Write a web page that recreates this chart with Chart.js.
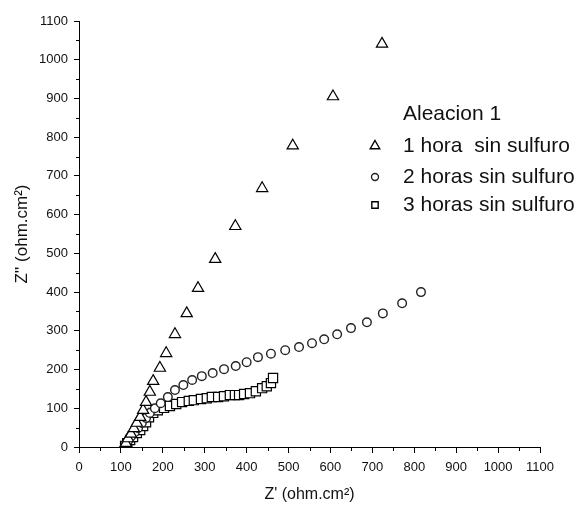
<!DOCTYPE html>
<html>
<head>
<meta charset="utf-8">
<script src="https://cdn.jsdelivr.net/npm/chart.js@4.4.1/dist/chart.umd.min.js"></script>
<style>
    html, body { margin: 0; padding: 0; background: #fff; }
</style>
</head>
<body>
<canvas id="nyquist" width="576" height="510"></canvas>
<script>
// Z' / Z'' values (ohm.cm2)
const hora1X = [108, 112, 117, 124, 131, 138, 146, 153, 160, 169, 177, 193, 208, 229, 257, 284, 325, 373, 437, 510, 606, 723];
const hora1Y = [3, 10, 22, 34, 48, 62, 77, 95, 116, 142, 170, 204, 242, 291, 345, 410, 485, 570, 668, 778, 905, 1041];

const horas2X = [112, 117, 124, 133, 141, 150, 160, 169, 181, 195, 212, 229, 249, 270, 293, 319, 346, 374, 400, 427, 458, 492, 525, 556, 585, 616, 649, 687, 725, 771, 816];
const horas2Y = [5, 16, 27, 38, 49, 62, 75, 88, 100, 113, 129, 147, 160, 173, 183, 191, 201, 209, 219, 232, 241, 250, 258, 268, 278, 291, 307, 322, 345, 371, 400];

const horas3X = [110, 115, 122, 129, 138, 146, 153, 160, 167, 177, 188, 203, 217, 232, 246, 262, 274, 291, 305, 317, 332, 346, 360, 372, 382, 394, 408, 422, 437, 448, 458, 463];
const horas3Y = [3, 10, 18, 26, 36, 44, 54, 64, 77, 88, 95, 101, 106, 111, 116, 119, 121, 124, 126, 129, 129, 131, 134, 134, 134, 137, 139, 144, 152, 157, 165, 178];

const seriesLabels = ["1 hora  sin sulfuro", "2 horas sin sulfuro", "3 horas sin sulfuro"];
const legendTitle = "Aleacion 1";
const axisMin = 0;
const axisMax = 1100;
const axisStep = 100;

const FONT = "'Liberation Sans', Arial, sans-serif";

function toPoints(xs, ys) {
    return xs.map((x, i) => ({ x: x, y: ys[i] }));
}

// minor ticks halfway between the labelled ones
const minorTicks = {
    id: "minorTicks",
    afterDraw(chart) {
        const ctx = chart.ctx;
        const area = chart.chartArea;
        ctx.save();
        ctx.strokeStyle = "#000";
        ctx.lineWidth = 1;
        ctx.beginPath();
        for (let v = axisMin + axisStep / 2; v < axisMax; v += axisStep) {
            const px = Math.round(chart.scales.x.getPixelForValue(v)) + 0.5;
            ctx.moveTo(px, area.bottom);
            ctx.lineTo(px, area.bottom + 4);
            const py = Math.round(chart.scales.y.getPixelForValue(v)) + 0.5;
            ctx.moveTo(area.left, py);
            ctx.lineTo(area.left - 3, py);
        }
        ctx.stroke();
        ctx.restore();
    },
};

// legend block drawn inside the plot like the original
const boxLegend = {
    id: "boxLegend",
    afterDraw(chart) {
        const ctx = chart.ctx;
        ctx.save();
        ctx.fillStyle = "#111";
        ctx.font = "21px " + FONT;
        ctx.textBaseline = "middle";
        ctx.textAlign = "left";
        ctx.fillText(legendTitle, 403, 114);
        const rows = [146, 177, 205];
        const sizes = [5.5, 3.5, 4.5];
        chart.data.datasets.forEach((ds, i) => {
            ctx.fillStyle = "#fff";
            ctx.strokeStyle = ds.borderColor;
            ctx.lineWidth = 1.4;
            Chart.helpers.drawPoint(ctx, { pointStyle: ds.pointStyle, rotation: 0, radius: sizes[i], borderWidth: 1.4 }, 375, rows[i]);
            ctx.fillStyle = "#111";
            ctx.fillText(seriesLabels[i], 403, rows[i]);
        });
        ctx.restore();
    },
};

const axisCommon = {
    type: "linear",
    min: axisMin,
    max: axisMax,
    border: { display: true, color: "#000", width: 1 },
    grid: { display: true, drawOnChartArea: false, drawTicks: true, color: "#000" },
    ticks: {
        stepSize: axisStep,
        color: "#111",
        font: { family: FONT, size: 13 },
        callback: (v) => String(v),
    },
};

new Chart(document.getElementById("nyquist"), {
    type: "scatter",
    data: {
        datasets: [
            {
                label: seriesLabels[0],
                data: toPoints(hora1X, hora1Y),
                pointStyle: "triangle",
                pointRadius: 6.5,
                borderColor: "#000",
                backgroundColor: "#fff",
                borderWidth: 1.2,
            },
            {
                label: seriesLabels[1],
                data: toPoints(horas2X, horas2Y),
                pointStyle: "circle",
                pointRadius: 4.3,
                borderColor: "#222",
                backgroundColor: "#fff",
                borderWidth: 1.4,
            },
            {
                label: seriesLabels[2],
                data: toPoints(horas3X, horas3Y),
                pointStyle: "rect",
                pointRadius: 6.5,
                borderColor: "#000",
                backgroundColor: "#fff",
                borderWidth: 1.2,
            },
        ],
    },
    options: {
        responsive: false,
        animation: false,
        layout: { padding: { top: 21, right: 36, left: 0, bottom: 0 } },
        plugins: {
            legend: { display: false },
            tooltip: { enabled: false },
        },
        scales: {
            x: {
                ...axisCommon,
                position: "bottom",
                grid: { ...axisCommon.grid, tickLength: 6 },
                ticks: { ...axisCommon.ticks, padding: 7, maxRotation: 0 },
                title: {
                    display: true,
                    text: "Z' (ohm.cm²)",
                    color: "#111",
                    font: { family: FONT, size: 16 },
                    padding: { top: 0, bottom: 6 },
                },
                afterFit(scale) {
                    scale.height = 63;
                },
            },
            y: {
                ...axisCommon,
                position: "left",
                grid: { ...axisCommon.grid, tickLength: 5 },
                ticks: { ...axisCommon.ticks, padding: 6 },
                title: {
                    display: true,
                    text: "Z'' (ohm.cm²)",
                    color: "#111",
                    font: { family: FONT, size: 17 },
                    padding: { top: 12, bottom: 0 },
                },
                afterFit(scale) {
                    scale.width = 79;
                },
            },
        },
    },
    plugins: [minorTicks, boxLegend],
});
</script>
</body>
</html>
